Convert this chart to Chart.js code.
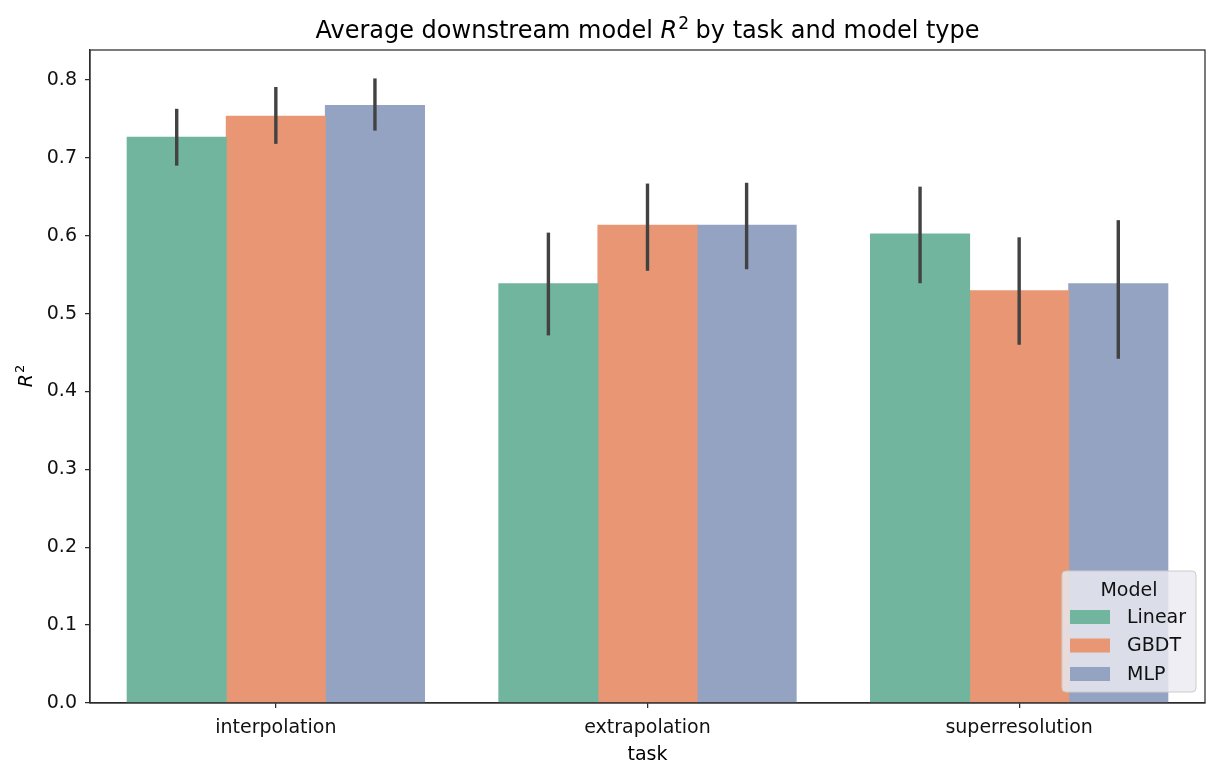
<!DOCTYPE html>
<html>
<head>
<meta charset="utf-8">
<script src="https://cdn.jsdelivr.net/npm/chart.js@4/dist/chart.umd.min.js"></script>
<style>
  html, body { margin: 0; padding: 0; background: #fff; }
  #wrap { width: 1220px; height: 777px; }
</style>
</head>
<body>
<div id="wrap"><canvas id="chart" width="1220" height="777"></canvas></div>
<script>
const categories = ['interpolation', 'extrapolation', 'superresolution'];
const seriesNames = ['Linear', 'GBDT', 'MLP'];
const linearValues = [0.727, 0.539, 0.603];
const gbdtValues = [0.754, 0.614, 0.530];
const mlpValues = [0.768, 0.614, 0.539];
// 95% CI ends
const linearLow = [0.690, 0.472, 0.539];
const linearHigh = [0.763, 0.604, 0.663];
const gbdtLow = [0.718, 0.555, 0.460];
const gbdtHigh = [0.791, 0.667, 0.598];
const mlpLow = [0.735, 0.557, 0.442];
const mlpHigh = [0.802, 0.668, 0.620];
const yTicks = [0.0, 0.1, 0.2, 0.3, 0.4, 0.5, 0.6, 0.7, 0.8];

const colors = ['#72b59f', '#e89673', '#94a3c1'];
const FONT = '"DejaVu Sans", sans-serif';
const dark = '#2b2b2b';

const errorBars = [
  { low: linearLow, high: linearHigh },
  { low: gbdtLow, high: gbdtHigh },
  { low: mlpLow, high: mlpHigh }
];

// error bars drawn on top of the bars
const errorBarPlugin = {
  id: 'errorBars',
  afterDatasetsDraw(chart) {
    const ctx = chart.ctx;
    const y = chart.scales.y;
    ctx.save();
    ctx.strokeStyle = '#424242';
    ctx.lineWidth = 3.4;
    chart.data.datasets.forEach((ds, i) => {
      const meta = chart.getDatasetMeta(i);
      meta.data.forEach((bar, j) => {
        ctx.beginPath();
        ctx.moveTo(bar.x, y.getPixelForValue(errorBars[i].low[j]));
        ctx.lineTo(bar.x, y.getPixelForValue(errorBars[i].high[j]));
        ctx.stroke();
      });
    });
    ctx.restore();
  }
};

// title, axis titles, top/right spines and the legend box
const decorPlugin = {
  id: 'decor',
  afterDraw(chart) {
    const ctx = chart.ctx;
    const a = chart.chartArea;
    ctx.save();

    // spines
    ctx.strokeStyle = dark;
    ctx.lineWidth = 1.25;
    ctx.strokeRect(a.left, a.top, a.right - a.left, a.bottom - a.top);

    // title
    ctx.fillStyle = '#000';
    ctx.textBaseline = 'alphabetic';
    ctx.textAlign = 'left';
    const p1 = 'Average downstream model ';
    const p2 = ' by task and model type';
    const fN = '24px ' + FONT, fI = 'italic 24px ' + FONT, fS = '17px ' + FONT;
    ctx.font = fN; const w1 = ctx.measureText(p1).width; const w3 = ctx.measureText(p2).width;
    ctx.font = fI; const w2 = ctx.measureText('R').width;
    ctx.font = fS; const ws = ctx.measureText('2').width;
    let x = (a.left + a.right) / 2 - (w1 + w2 + ws + w3) / 2;
    const by = 38;
    ctx.font = fN; ctx.fillText(p1, x, by); x += w1;
    ctx.font = fI; ctx.fillText('R', x, by); x += w2 + 1;
    ctx.font = fS; ctx.fillText('2', x, by - 9); x += ws - 1;
    ctx.font = fN; ctx.fillText(p2, x, by);

    // x title
    ctx.font = '19px ' + FONT;
    ctx.textAlign = 'center';
    ctx.fillText('task', (a.left + a.right) / 2, 760);

    // y title
    ctx.save();
    ctx.translate(32, (a.top + a.bottom) / 2);
    ctx.rotate(-Math.PI / 2);
    ctx.textAlign = 'left';
    ctx.font = 'italic 19px ' + FONT;
    const wr = ctx.measureText('R').width;
    ctx.font = '13px ' + FONT;
    const w22 = ctx.measureText('2').width;
    const sx = -(wr + w22) / 2;
    ctx.font = 'italic 19px ' + FONT;
    ctx.fillText('R', sx, 0);
    ctx.font = '13px ' + FONT;
    ctx.fillText('2', sx + wr + 1, -8);
    ctx.restore();

    // legend
    const bw = 134, bh = 121;
    const bx = a.right - 9 - bw, byy = a.bottom - 11 - bh;
    ctx.beginPath();
    ctx.roundRect(bx, byy, bw, bh, 4);
    ctx.fillStyle = 'rgba(234,234,242,0.82)';
    ctx.fill();
    ctx.strokeStyle = '#cccccc';
    ctx.lineWidth = 1;
    ctx.stroke();
    ctx.fillStyle = '#111';
    ctx.font = '19px ' + FONT;
    ctx.textAlign = 'center';
    ctx.textBaseline = 'middle';
    ctx.fillText('Model', bx + bw / 2, byy + 20);
    ctx.textAlign = 'left';
    chart.data.datasets.forEach((ds, i) => {
      const ry = byy + 46 + i * 28.5;
      ctx.fillStyle = ds.backgroundColor;
      ctx.fillRect(bx + 8, ry - 7, 40, 14);
      ctx.fillStyle = '#111';
      ctx.fillText(ds.label, bx + 65, ry + 1);
    });
    ctx.restore();
  }
};

new Chart(document.getElementById('chart'), {
  type: 'bar',
  data: {
    labels: categories,
    datasets: [
      { label: seriesNames[0], data: linearValues, backgroundColor: colors[0] },
      { label: seriesNames[1], data: gbdtValues, backgroundColor: colors[1] },
      { label: seriesNames[2], data: mlpValues, backgroundColor: colors[2] }
    ]
  },
  options: {
    responsive: false,
    animation: false,
    devicePixelRatio: 1,
    layout: { padding: { top: 50, right: 15, left: 0, bottom: 0 } },
    datasets: { bar: { categoryPercentage: 0.8, barPercentage: 1.01, borderWidth: 0 } },
    plugins: {
      legend: { display: false },
      title: { display: false },
      tooltip: { enabled: false }
    },
    scales: {
      x: {
        afterFit(s) { s.height = 74; },
        grid: { drawOnChartArea: false, offset: false, tickLength: 5, color: dark, lineWidth: 1.25 },
        border: { display: true, color: dark, width: 1.25 },
        ticks: { color: '#111', padding: 9, font: { family: 'DejaVu Sans', size: 19 } }
      },
      y: {
        min: 0,
        max: 0.8385,
        afterFit(s) { s.width = 90; },
        afterBuildTicks(s) { s.ticks = yTicks.map(v => ({ value: v })); },
        grid: { drawOnChartArea: false, tickLength: 5, color: dark, lineWidth: 1.25 },
        border: { display: true, color: dark, width: 1.25 },
        ticks: {
          color: '#111',
          padding: 8,
          font: { family: 'DejaVu Sans', size: 19 },
          callback: v => Number(v).toFixed(1)
        }
      }
    }
  },
  plugins: [errorBarPlugin, decorPlugin]
});
</script>
</body>
</html>
